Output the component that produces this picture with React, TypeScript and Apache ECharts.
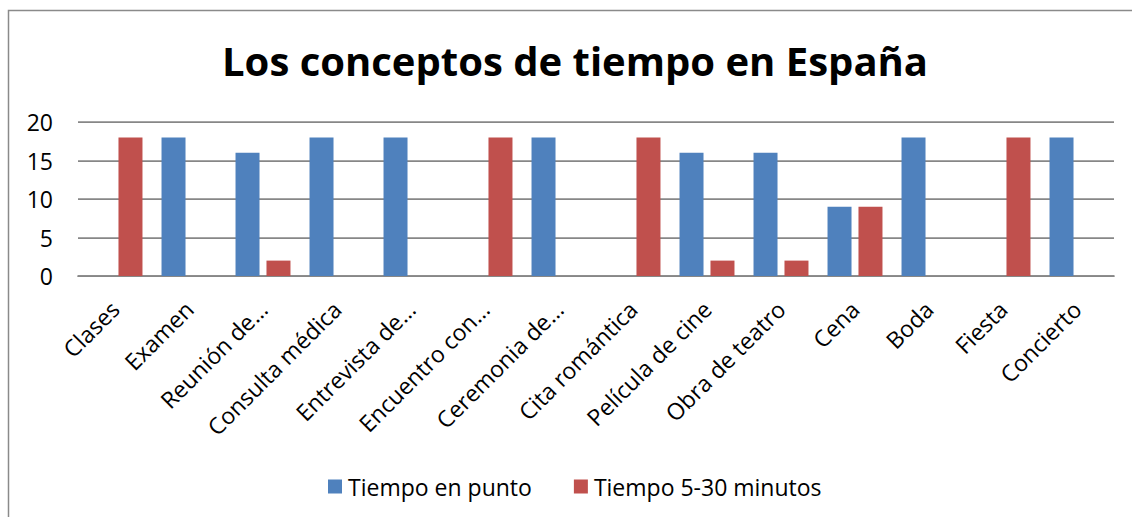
import React, { useEffect, useRef } from "react";
import * as echarts from "echarts";

// Categories (long names shortened with an ellipsis as on the axis)
const categories = [
  "Clases",
  "Examen",
  "Reunión de…",
  "Consulta médica",
  "Entrevista de…",
  "Encuentro con…",
  "Ceremonia de…",
  "Cita romántica",
  "Película de cine",
  "Obra de teatro",
  "Cena",
  "Boda",
  "Fiesta",
  "Concierto",
];

const tiempoEnPunto = [0, 18, 16, 18, 18, 0, 18, 0, 16, 16, 9, 18, 0, 18];
const tiempo5a30 = [18, 0, 2, 0, 0, 18, 0, 18, 2, 2, 9, 0, 18, 0];

const seriesNames = ["Tiempo en punto", "Tiempo 5-30 minutos"];
const yTicks = { min: 0, max: 20, interval: 5 };

const BLUE = "#4F81BD";
const RED = "#C0504D";
const GRID_GRAY = "#878787";
const FONT = "'Open Sans', 'Noto Sans', sans-serif";

export default function App() {
  const ref = useRef<HTMLDivElement>(null);

  useEffect(() => {
    if (!ref.current) return;
    const chart = echarts.init(ref.current, undefined, { renderer: "svg" });
    chart.setOption({
      animation: false,
      backgroundColor: "#ffffff",
      textStyle: { fontFamily: FONT },
      graphic: [
        {
          // chart-area frame (left and top edges)
          type: "polyline",
          shape: { points: [[8.5, 517], [8.5, 10.5], [1132, 10.5]] },
          style: { fill: "none", stroke: "#8a8a8a", lineWidth: 1.5 },
          silent: true,
        },
        {
          type: "text",
          x: 575,
          y: 60,
          style: {
            text: "Los conceptos de tiempo en España",
            fontFamily: FONT,
            fontWeight: "bold",
            fontSize: 40,
            fill: "#000000",
            textAlign: "center",
            textVerticalAlign: "middle",
          },
        },
      ],
      legend: {
        data: seriesNames,
        left: 323,
        top: 470,
        itemWidth: 14,
        itemHeight: 14,
        itemGap: 42,
        icon: "rect",
        textStyle: { fontFamily: FONT, fontSize: 23, color: "#000000", padding: [0, 0, 0, 1] },
      },
      grid: { left: 78, top: 122, width: 1036, height: 154, containLabel: false },
      xAxis: {
        type: "category",
        data: categories,
        axisLine: { lineStyle: { color: GRID_GRAY, width: 1.75 } },
        axisTick: { show: false },
        axisLabel: {
          interval: 0,
          rotate: 45,
          margin: 29,
          fontFamily: FONT,
          fontSize: 23,
          color: "#000000",
        },
      },
      yAxis: {
        type: "value",
        min: yTicks.min,
        max: yTicks.max,
        interval: yTicks.interval,
        axisLine: { show: false },
        axisTick: { show: false },
        splitLine: { lineStyle: { color: GRID_GRAY, width: 1.75 } },
        axisLabel: { margin: 25, fontFamily: FONT, fontSize: 23, color: "#000000" },
      },
      series: [
        {
          name: seriesNames[0],
          type: "bar",
          data: tiempoEnPunto,
          barWidth: 24,
          barGap: "29%",
          itemStyle: { color: BLUE },
        },
        {
          name: seriesNames[1],
          type: "bar",
          data: tiempo5a30,
          barWidth: 24,
          barGap: "29%",
          itemStyle: { color: RED },
        },
      ],
    });
    return () => chart.dispose();
  }, []);

  return (
    <div
      ref={ref}
      style={{ position: "fixed", left: 0, top: 0, width: 1132, height: 517 }}
    />
  );
}
